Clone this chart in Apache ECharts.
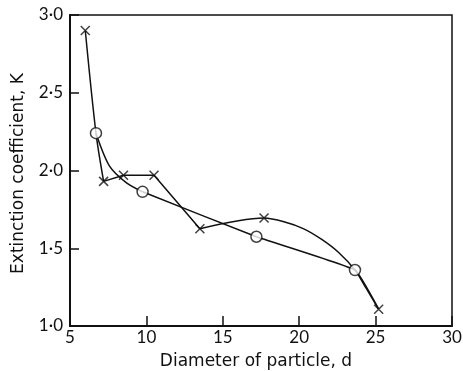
<!DOCTYPE html>
<html>
<head>
<meta charset="utf-8">
<script src="https://cdn.jsdelivr.net/npm/echarts@6/dist/echarts.min.js"></script>
<style>html,body{margin:0;padding:0;background:#fff}#c{width:463px;height:371px}</style>
</head>
<body>
<div id="c"></div>
<script>
// measured points (crosses)
var crossD = [6.0, 7.2, 8.5, 10.5, 13.5, 17.7, 25.2];
var crossK = [2.90, 1.93, 1.97, 1.97, 1.625, 1.694, 1.108];
// measured points (circles)
var circleD = [6.7, 9.75, 17.2, 23.65];
var circleK = [2.24, 1.863, 1.574, 1.36];
// curve traces
var crossCurveA_D = [6.0, 6.7, 7.2];
var crossCurveA_K = [2.90, 2.24, 1.93];
var crossCurveB_D = [7.2, 8.5, 10.5, 13.5];
var crossCurveB_K = [1.93, 1.97, 1.97, 1.625];
var crossCurveC_D = [13.5, 17.7, 19.0, 20.3, 21.5, 22.6, 23.65, 24.4, 25.2];
var crossCurveC_K = [1.625, 1.694, 1.670, 1.625, 1.555, 1.471, 1.36, 1.24, 1.108];
var circleCurveA_D = [6.7, 7.6, 8.7, 9.75];
var circleCurveA_K = [2.24, 2.026, 1.92, 1.863];
var circleCurveB_D = [9.75, 17.2, 23.65, 25.2];
var circleCurveB_K = [1.863, 1.574, 1.36, 1.108];
var xTickLabels = ['5', '10', '15', '20', '25', '30'];
var yTickLabels = ['1·0', '1·5', '2·0', '2·5', '3·0'];

function pairs(a, b) { return a.map(function (v, i) { return [v, b[i]]; }); }
var ink = '#111';
var font = 'Lato, "Open Sans", sans-serif';
var titleFont = '"DejaVu Sans", sans-serif';

function curve(d, k, smooth) {
  return {
    type: 'line', data: pairs(d, k), showSymbol: false, symbol: 'none',
    smooth: smooth,
    lineStyle: { color: ink, width: 1.5 }, z: 2, silent: true
  };
}

var chart = echarts.init(document.getElementById('c'), null, { renderer: 'canvas' });
chart.setOption({
  animation: false,
  backgroundColor: '#fff',
  grid: { left: 70, right: 11, top: 15, bottom: 45, containLabel: false, outerBoundsMode: 'none',
    show: true, borderColor: ink, borderWidth: 1.5, backgroundColor: 'transparent' },
  xAxis: {
    type: 'value', min: 5, max: 30, interval: 5,
    name: 'Diameter of particle, d', nameLocation: 'middle', nameGap: 27,
    nameTextStyle: { color: ink, fontSize: 17, fontFamily: titleFont, padding: [0, 10, 0, 0] },
    axisLine: { show: true, onZero: false, lineStyle: { color: ink, width: 2 } },
    axisTick: { show: true, inside: true, length: 10, lineStyle: { color: ink, width: 1.5 } },
    axisLabel: { color: ink, fontSize: 17, fontFamily: font, margin: 3,
      formatter: function (v) { return xTickLabels[Math.round((v - 5) / 5)]; } },
    splitLine: { show: false }
  },
  yAxis: {
    type: 'value', min: 1, max: 3, interval: 0.5,
    name: 'Extinction coefficient, K', nameLocation: 'middle', nameGap: 43, nameRotate: 90,
    nameTextStyle: { color: ink, fontSize: 17, fontFamily: titleFont, padding: [0, 6, 0, 0] },
    axisLine: { show: true, onZero: false, lineStyle: { color: ink, width: 2 } },
    axisTick: { show: true, inside: true, length: 9, lineStyle: { color: ink, width: 1.5 } },
    axisLabel: { color: ink, fontSize: 17, fontFamily: font, margin: 7,
      formatter: function (v) { return yTickLabels[Math.round((v - 1) / 0.5)]; } },
    splitLine: { show: false }
  },
  series: [
    curve(crossCurveA_D, crossCurveA_K, 0.3),
    curve(crossCurveB_D, crossCurveB_K, false),
    curve(crossCurveC_D, crossCurveC_K, 0.3),
    curve(circleCurveA_D, circleCurveA_K, 0.3),
    curve(circleCurveB_D, circleCurveB_K, 0.1),
    {
      type: 'scatter', data: pairs(crossD, crossK),
      symbol: 'path://M0,0L10,10M10,0L0,10', symbolSize: 9,
      itemStyle: { color: 'none', borderColor: ink, borderWidth: 1.5 }, z: 5
    },
    {
      type: 'scatter', data: pairs(circleD, circleK),
      symbol: 'circle', symbolSize: 11,
      itemStyle: { color: '#fff', borderColor: ink, borderWidth: 1.5 }, z: 5
    }
  ]
});
</script>
</body>
</html>
